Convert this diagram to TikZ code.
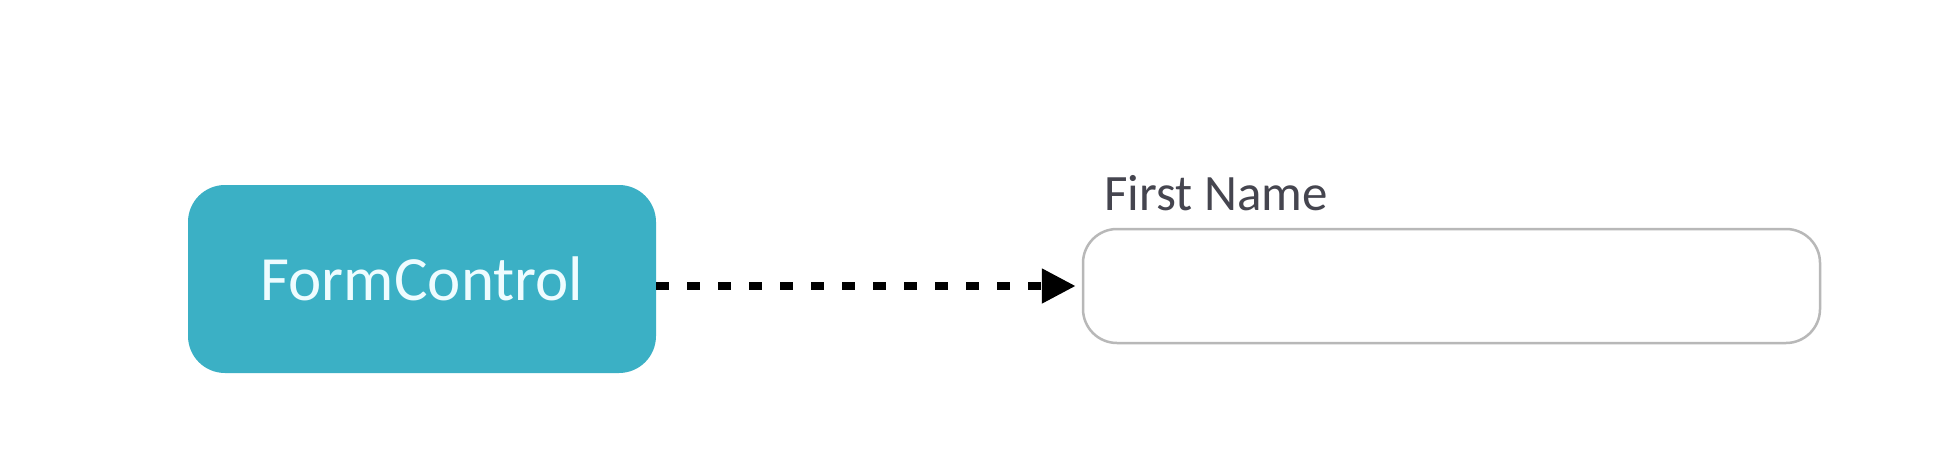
\documentclass[tikz,border=0pt]{standalone}
\usepackage{fontspec}
\setmainfont{Carlito}
\usetikzlibrary{arrows.meta}
\definecolor{fcblue}{HTML}{3BB0C5}
\definecolor{fctext}{HTML}{EEFCFF}
\definecolor{boxgray}{HTML}{B8B8B8}
\definecolor{labelgray}{HTML}{45454F}
\tikzset{
  ctrlbox/.style={rectangle, rounded corners=37pt, fill=fcblue, draw=none,
    minimum width=468pt, minimum height=188pt, inner sep=0pt,
    text=fctext, font=\fontsize{63pt}{70pt}\selectfont},
  inputbox/.style={rectangle, rounded corners=34pt, fill=white, draw=boxgray,
    line width=2.5pt, minimum width=737pt, minimum height=114pt, inner sep=0pt},
  fieldlabel/.style={anchor=base west, inner sep=0pt, text=labelgray,
    font=\fontsize{51pt}{58pt}\selectfont},
  bindarrow/.style={line width=8pt, dash pattern=on 13pt off 18pt,
    -{Triangle[length=34pt,width=33pt]}, shorten >=6pt}
}
\begin{document}
\begin{tikzpicture}[x=1pt,y=-1pt]
  \useasboundingbox[fill=white] (0,0) rectangle (1942,466);
  \node[ctrlbox] (fc) at (422,279) {FormControl};
  \node[inputbox] (inp) at (1451.5,286) {};
  \node[fieldlabel] (lbl) at (1104,210) {First Name};
  \draw[bindarrow] (fc.east |- inp.west) -- (inp.west);
\end{tikzpicture}
\end{document}
